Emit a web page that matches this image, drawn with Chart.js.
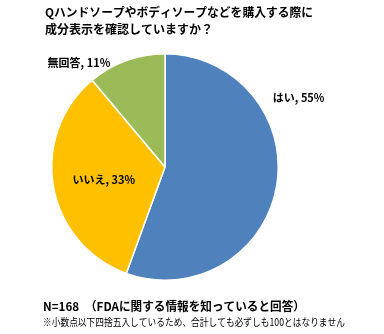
<!DOCTYPE html>
<html lang="ja">
<head>
<meta charset="UTF-8">
<title>成分表示の確認</title>
<script src="https://cdn.jsdelivr.net/npm/chart.js"></script>
<style>
  html, body { margin: 0; padding: 0; background: #fff; }
  #wrap { position: relative; width: 384px; height: 334px; }
</style>
</head>
<body>
<div id="wrap"><canvas id="pieChart" width="384" height="334"></canvas></div>
<script>
const categories = ['はい', 'いいえ', '無回答'];
const percents = [55, 33, 11];
const sliceColors = ['#4F81BD', '#FFC000', '#9BBB59'];
const titleLines = ['Qハンドソープやボディソープなどを購入する際に', '成分表示を確認していますか？'];
const noteMain = 'N=168　（FDAに関する情報を知っていると回答）';
const noteSub = '※小数点以下四捨五入しているため、合計しても必ずしも100とはなりません';

const JP = '"Noto Sans CJK JP", "Noto Sans", sans-serif';

// label anchor per slice, as a fraction of the radius from the pie centre
const labelSpots = [[1.18, -0.61], [-0.54, 0.11], [-0.76, -0.92]];

const textPlugin = {
  id: 'texts',
  afterDraw(chart) {
    const ctx = chart.ctx;
    ctx.save();
    ctx.fillStyle = '#000';
    ctx.textBaseline = 'middle';

    ctx.font = 'bold 12px ' + JP;
    ctx.textAlign = 'left';
    ctx.fillText(titleLines[0], 45, 12, 268);
    ctx.fillText(titleLines[1], 45, 29);

    ctx.fillText(noteMain, 43, 306, 262);
    ctx.font = '10px ' + JP;
    ctx.fillText(noteSub, 43, 322, 302);

    const arc = chart.getDatasetMeta(0).data[0];
    const r = arc.outerRadius;
    ctx.font = 'bold 11px ' + JP;
    ctx.textAlign = 'center';
    categories.forEach((c, i) => {
      const [fx, fy] = labelSpots[i];
      ctx.fillText(c + ', ' + percents[i] + '%', arc.x + fx * r, arc.y + fy * r);
    });
    ctx.restore();
  }
};

new Chart(document.getElementById('pieChart'), {
  type: 'pie',
  data: {
    labels: categories,
    datasets: [{
      data: percents,
      backgroundColor: sliceColors,
      borderColor: '#fff',
      borderWidth: 1.5
    }]
  },
  options: {
    responsive: false,
    animation: false,
    layout: { padding: { left: 51, right: 105, top: 53, bottom: 53 } },
    plugins: {
      legend: { display: false },
      tooltip: { enabled: false }
    }
  },
  plugins: [textPlugin]
});
</script>
</body>
</html>
